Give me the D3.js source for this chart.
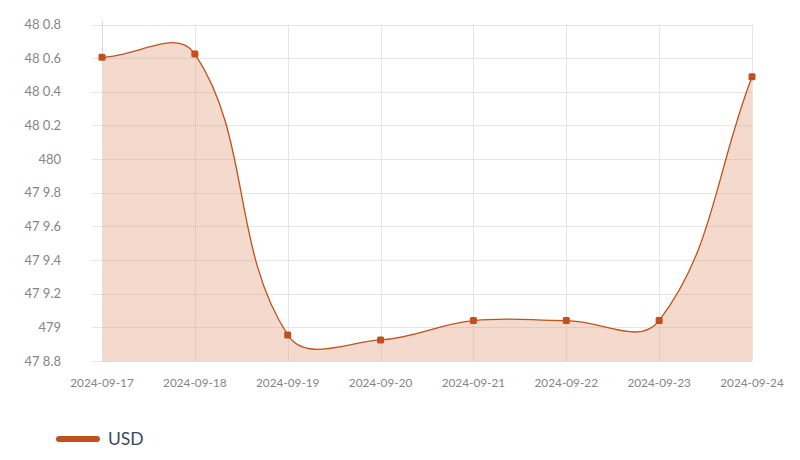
<!DOCTYPE html>
<html><head><meta charset="utf-8">
<script src="https://cdn.jsdelivr.net/npm/d3@7"></script>
<style>
html,body{margin:0;padding:0;background:#fff;}
svg{display:block;font-family:Lato,"Open Sans",sans-serif;}
</style></head>
<body><svg id="c" width="800" height="460"></svg>
<script>
const categories = ["2024-09-17","2024-09-18","2024-09-19","2024-09-20","2024-09-21","2024-09-22","2024-09-23","2024-09-24"];
const usdValues = [480.605, 480.625, 478.955, 478.925, 479.04, 479.04, 479.04, 480.49];
const yTickValues = [478.8, 479.0, 479.2, 479.4, 479.6, 479.8, 480.0, 480.2, 480.4, 480.6, 480.8];
const yTickLabels = ["47 8.8","479","47 9.2","47 9.4","47 9.6","47 9.8","480","48 0.2","48 0.4","48 0.6","48 0.8"];
const seriesName = "USD";

(function(){
const svg = d3.select("#c");
const pLeft = 102, pRight = 752, pTop = 24.5, pBottom = 361;
const x = d3.scalePoint().domain(categories).range([pLeft, pRight]);
const y = d3.scaleLinear().domain([478.8, 480.8]).range([pBottom, pTop]);
const lineColor = "#c0511c";
const fillColor = "rgba(224,150,112,0.35)";
const gridColor = "#e6e6e6";

// Chart.js-like spline curve (tension 0.4)
function ChartSpline(context){ this._context = context; }
ChartSpline.prototype = {
  areaStart(){}, areaEnd(){},
  lineStart(){ this._pts = []; },
  point(px, py){ this._pts.push([+px, +py]); },
  lineEnd(){
    const p = this._pts, n = p.length, t = 0.4, ctx = this._context;
    if (!n) return;
    const cps = p.map((cur, i) => {
      const prev = p[Math.max(0, i-1)], next = p[Math.min(n-1, i+1)];
      const d01 = Math.hypot(cur[0]-prev[0], cur[1]-prev[1]);
      const d12 = Math.hypot(next[0]-cur[0], next[1]-cur[1]);
      let s01 = d01/(d01+d12), s12 = d12/(d01+d12);
      if (isNaN(s01)) s01 = 0; if (isNaN(s12)) s12 = 0;
      const fa = t*s01, fb = t*s12;
      return {
        p: [cur[0]-fa*(next[0]-prev[0]), cur[1]-fa*(next[1]-prev[1])],
        n: [cur[0]+fb*(next[0]-prev[0]), cur[1]+fb*(next[1]-prev[1])]
      };
    });
    ctx.moveTo(p[0][0], p[0][1]);
    for (let i = 1; i < n; i++) {
      ctx.bezierCurveTo(cps[i-1].n[0], cps[i-1].n[1], cps[i].p[0], cps[i].p[1], p[i][0], p[i][1]);
    }
  }
};
const chartSpline = ctx => new ChartSpline(ctx);

const g = svg.append("g");

g.selectAll(".hg").data(yTickValues).join("line")
  .attr("x1", pLeft-10).attr("x2", pRight)
  .attr("y1", d => Math.round(y(d))+0.5).attr("y2", d => Math.round(y(d))+0.5)
  .attr("stroke", gridColor).attr("stroke-width", 1);
g.selectAll(".vg").data(categories).join("line")
  .attr("x1", d => Math.round(x(d))+0.5).attr("x2", d => Math.round(x(d))+0.5)
  .attr("y1", pTop).attr("y2", pBottom)
  .attr("stroke", gridColor).attr("stroke-width", 1);

const data = categories.map((c,i) => ({c, v: usdValues[i]}));
const line = d3.line().x(d => x(d.c)).y(d => y(d.v)).curve(chartSpline);
const lp = line(data);
const areaPath = lp + `L${x(categories[categories.length-1])},${y(478.8)}L${x(categories[0])},${y(478.8)}Z`;
g.append("path").attr("d", areaPath).attr("fill", fillColor).attr("stroke", "none");
g.append("path").attr("d", lp).attr("fill", "none").attr("stroke", lineColor).attr("stroke-width", 1.3);

g.append("line").attr("x1", pLeft+0.5).attr("x2", pLeft+0.5).attr("y1", pTop-4).attr("y2", pBottom)
  .attr("stroke", "#dcdcdc");
g.append("line").attr("x1", pLeft).attr("x2", pRight).attr("y1", pBottom+0.5).attr("y2", pBottom+0.5)
  .attr("stroke", "#dcdcdc");

g.selectAll(".pt").data(data).join("rect")
  .attr("x", d => x(d.c)-3.5).attr("y", d => y(d.v)-3.5)
  .attr("width", 7).attr("height", 7).attr("rx", 1.5)
  .attr("fill", lineColor);

g.selectAll(".yl").data(yTickValues).join("text")
  .attr("x", 61).attr("y", d => y(d)).attr("dy", "0.35em")
  .attr("text-anchor", "end").attr("font-size", 13).attr("fill", "#858585")
  .text((d,i) => yTickLabels[i]);
g.selectAll(".xl").data(categories).join("text")
  .attr("x", d => x(d)).attr("y", 383).attr("dy", "0.35em")
  .attr("text-anchor", "middle").attr("font-size", 11.8).attr("fill", "#858585")
  .text(d => d);

svg.append("line").attr("x1", 59).attr("x2", 97).attr("y1", 439).attr("y2", 439)
  .attr("stroke", lineColor).attr("stroke-width", 6).attr("stroke-linecap", "round");
svg.append("text").attr("x", 108).attr("y", 439).attr("dy", "0.35em")
  .attr("font-size", 17.5).attr("fill", "#3b4a5e").text(seriesName);
})();
</script></body></html>
